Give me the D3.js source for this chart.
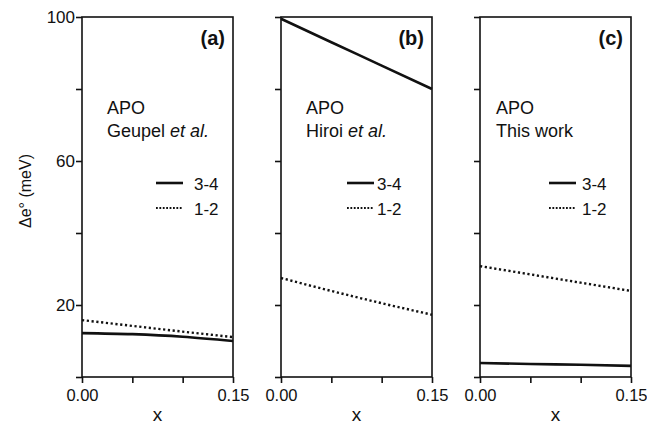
<!DOCTYPE html>
<html>
<head>
<meta charset="utf-8">
<script src="https://cdn.jsdelivr.net/npm/d3@7"></script>
<style>
  html, body { margin: 0; padding: 0; background: #fff; }
  svg { display: block; font-family: "Liberation Sans", Arial, Helvetica, sans-serif; }
</style>
</head>
<body>
<svg id="chart" width="647" height="426"></svg>
<script>
// ---- data ----
const xValues = [0, 0.05, 0.10, 0.15];
const panelLabels = ["(a)", "(b)", "(c)"];
const sourceLines = [["APO", "Geupel et al."], ["APO", "Hiroi et al."], ["APO", "This work"]];
const seriesNames = ["3-4", "1-2"];
const panelA_34 = [12.2, 11.9, 11.2, 10.0];
const panelA_12 = [15.8, 14.2, 12.6, 11.1];
const panelB_34 = [99.5, 93.0, 86.5, 80.0];
const panelB_12 = [27.5, 23.9, 20.5, 17.3];
const panelC_34 = [3.9, 3.6, 3.4, 3.1];
const panelC_12 = [30.8, 28.5, 26.2, 23.9];
const yTicks = [0, 20, 40, 60, 80, 100];
const yTickLabels = [20, 60, 100];
const xTicks = [0, 0.05, 0.10, 0.15];
const xTickLabels = [0, 0.15];

const panels = [
  { s34: panelA_34, s12: panelA_12 },
  { s34: panelB_34, s12: panelB_12 },
  { s34: panelC_34, s12: panelC_12 }
];

// ---- layout ----
const ink = "#111";
const lefts = [82, 281, 480];
const pw = 151;
const plotTop = 17, plotBottom = 377;
const legendLineOff = [74, 66, 69];
const legendTextOff = [112, 96, 102];
const sourceOff = [25, 25, 16];

const svg = d3.select("#chart");
const y = d3.scaleLinear().domain([0, 100]).range([plotBottom, plotTop]);

panels.forEach((p, i) => {
  const L = lefts[i], R = L + pw;
  const x = d3.scaleLinear().domain([0, 0.15]).range([L, R]);
  const g = svg.append("g");

  // box
  g.append("rect").attr("x", L).attr("y", plotTop).attr("width", pw).attr("height", plotBottom - plotTop)
    .attr("fill", "none").attr("stroke", ink).attr("stroke-width", 1.6);

  // y axis
  const ya = d3.axisLeft(y).tickValues(yTicks).tickSize(6).tickPadding(1)
    .tickFormat(d => (i === 0 && yTickLabels.includes(d)) ? String(d) : "");
  const yg = g.append("g").attr("transform", `translate(${L},0)`).call(ya);
  yg.select(".domain").remove();
  yg.selectAll(".tick line").attr("stroke", ink).attr("stroke-width", 1.6);
  yg.selectAll(".tick text").attr("fill", ink).style("font-size", "17px")
    .style("font-family", "'Liberation Sans', Arial, sans-serif");

  // x axis
  const xa = d3.axisBottom(x).tickValues(xTicks).tickSize(6).tickPadding(6)
    .tickFormat(d => xTickLabels.some(v => Math.abs(v - d) < 1e-9) ? d3.format(".2f")(d) : "");
  const xg = g.append("g").attr("transform", `translate(0,${plotBottom})`).call(xa);
  xg.select(".domain").remove();
  xg.selectAll(".tick line").attr("stroke", ink).attr("stroke-width", 1.6);
  xg.selectAll(".tick text").attr("fill", ink).style("font-size", "16.5px")
    .style("font-family", "'Liberation Sans', Arial, sans-serif");

  // x title
  g.append("text").attr("x", (L + R) / 2).attr("y", 421).attr("text-anchor", "middle")
    .attr("fill", ink).style("font-size", "19px").text("x");

  // panel label
  g.append("text").attr("x", R - 8).attr("y", 45).attr("text-anchor", "end")
    .attr("fill", ink).style("font-size", "20px").style("font-weight", "bold").text(panelLabels[i]);

  // source text
  const sx = L + sourceOff[i];
  g.append("text").attr("x", sx).attr("y", 114).attr("fill", ink).style("font-size", "18px")
    .text(sourceLines[i][0]);
  const t2 = g.append("text").attr("x", sx).attr("y", 137).attr("fill", ink).style("font-size", "18px");
  const parts = sourceLines[i][1].split("et al.");
  t2.append("tspan").text(parts[0]);
  if (sourceLines[i][1].includes("et al.")) {
    t2.append("tspan").style("font-style", "italic").text("et al.");
  }

  // legend
  const lx0 = L + legendLineOff[i], lx1 = lx0 + 27, tx = L + legendTextOff[i];
  g.append("line").attr("x1", lx0).attr("x2", lx1).attr("y1", 183).attr("y2", 183)
    .attr("stroke", ink).attr("stroke-width", 2.6);
  g.append("text").attr("x", tx).attr("y", 190).attr("fill", ink).style("font-size", "17px").text(seriesNames[0]);
  g.append("line").attr("x1", lx0).attr("x2", lx1).attr("y1", 208).attr("y2", 208)
    .attr("stroke", ink).attr("stroke-width", 2).attr("stroke-dasharray", "1.8,1.6");
  g.append("text").attr("x", tx).attr("y", 215).attr("fill", ink).style("font-size", "17px").text(seriesNames[1]);

  // curves
  const line = d3.line().x((d, k) => x(xValues[k])).y(d => y(d)).curve(d3.curveMonotoneX);
  g.append("path").datum(p.s34).attr("d", line).attr("fill", "none")
    .attr("stroke", ink).attr("stroke-width", 2.6);
  g.append("path").datum(p.s12).attr("d", line).attr("fill", "none")
    .attr("stroke", ink).attr("stroke-width", 2.4).attr("stroke-dasharray", "2.2,2.6");
});

// y title
svg.append("text").attr("transform", "translate(31,191) rotate(-90)").attr("text-anchor", "middle")
  .attr("fill", ink).style("font-size", "16px").text("Δe° (meV)");
</script>
</body>
</html>
